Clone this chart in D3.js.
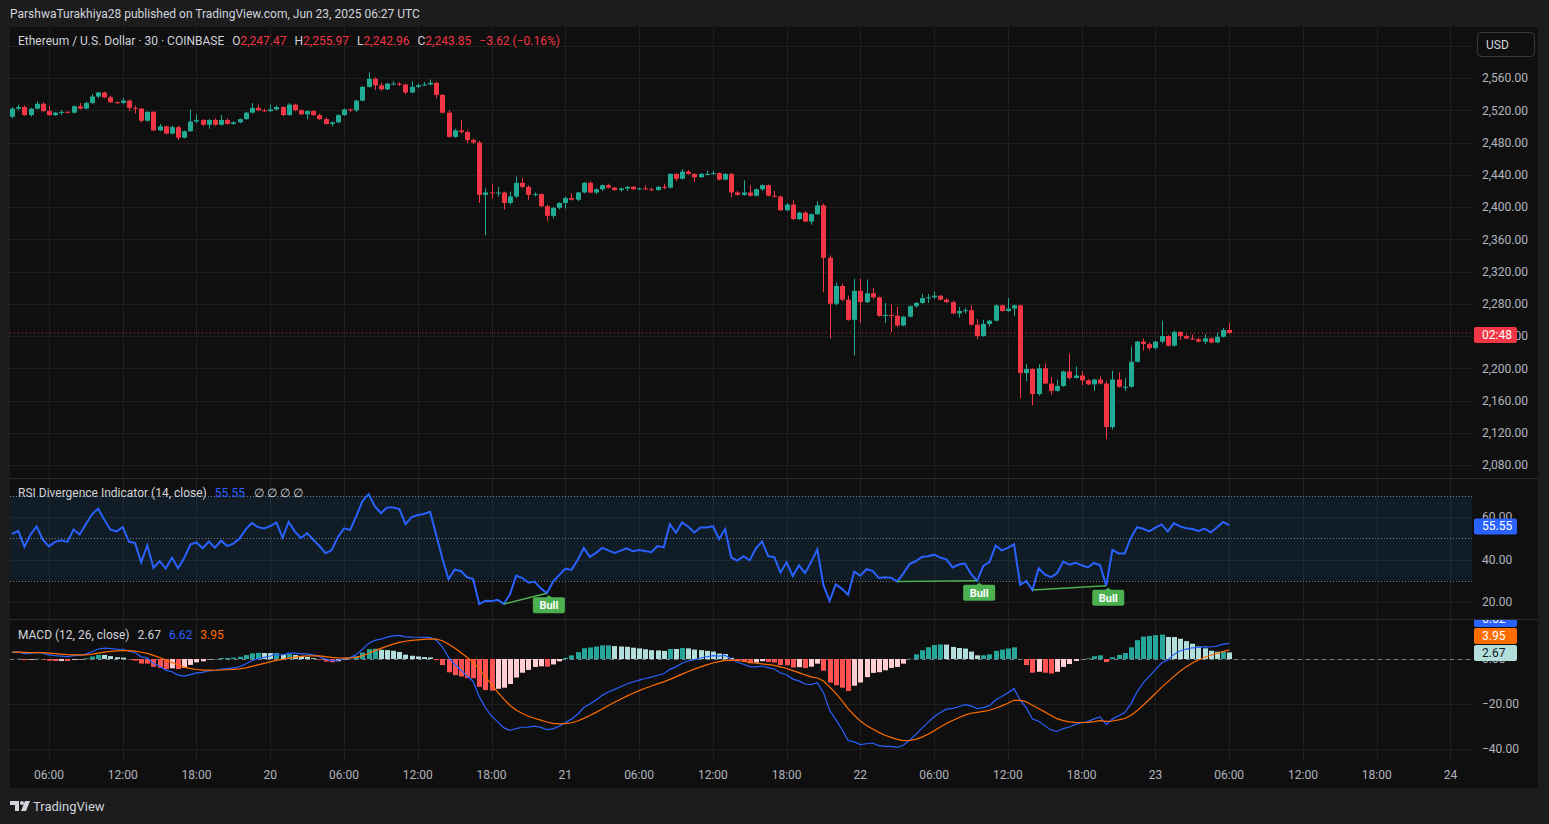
<!DOCTYPE html>
<html>
<head>
<meta charset="utf-8">
<script src="https://cdn.jsdelivr.net/npm/d3@7"></script>
<style>
  html, body { margin: 0; padding: 0; background: #1c1c1c; overflow: hidden; }
  svg { display: block; font-family: Roboto, "Noto Sans", sans-serif; }
</style>
</head>
<body>
<svg id="chart" width="1549" height="824"></svg>
<script>
// ETH/USD 30 min candles, Jun 19 03:00 -> Jun 23 06:00 (UTC)
const open = [2512,2522,2524,2514,2522,2528,2519,2514,2517,2518,2517,2525,2522,2529,2537,2542,2536,2530,2529,2532,
  2523,2522,2507,2518,2495,2500,2491,2499,2486,2494,2506,2508,2502,2508,2502,2508,2503,2505,2509,2517,
  2523,2520,2519,2521,2524,2514,2527,2520,2515,2519,2514,2509,2503,2505,2514,2521,2520,2532,2549,2559,
  2551,2546,2553,2553,2552,2542,2549,2551,2552,2554,2539,2517,2487,2495,2493,2483,2480,2415,2418,2417,
  2418,2405,2413,2430,2425,2415,2416,2401,2389,2399,2405,2411,2409,2418,2430,2418,2422,2427,2424,2421,
  2423,2425,2422,2423,2422,2421,2425,2424,2441,2435,2444,2441,2437,2441,2441,2442,2434,2441,2418,2415,
  2418,2414,2422,2427,2414,2413,2396,2403,2385,2393,2382,2391,2402,2337,2280,2302,2285,2260,2296,2282,
  2293,2288,2265,2266,2265,2253,2264,2277,2281,2287,2288,2290,2285,2282,2268,2271,2272,2254,2240,2255,
  2259,2278,2271,2274,2278,2194,2199,2168,2200,2181,2172,2178,2196,2188,2191,2185,2180,2186,2181,2127,
  2186,2177,2177,2208,2233,2230,2225,2233,2240,2228,2245,2240,2237,2236,2233,2237,2232,2239,2247.47];
const high = [2524,2527,2526,2523,2531,2530,2525,2518,2520,2519,2526,2529,2531,2540,2543,2543,2538,2531,2535,2533,
  2526,2523,2519,2519,2503,2501,2501,2501,2495,2521,2515,2509,2509,2510,2514,2510,2506,2510,2518,2529,
  2527,2522,2527,2526,2525,2529,2528,2521,2520,2520,2516,2511,2506,2515,2522,2522,2533,2550,2567,2561,
  2554,2554,2556,2555,2553,2556,2553,2555,2558,2555,2540,2520,2497,2508,2495,2485,2482,2423,2428,2425,
  2419,2419,2438,2436,2427,2418,2417,2403,2400,2406,2413,2417,2419,2431,2432,2423,2428,2429,2425,2424,
  2426,2426,2424,2427,2424,2426,2429,2442,2442,2447,2446,2442,2442,2445,2445,2443,2442,2442,2420,2433,
  2427,2423,2428,2428,2420,2414,2405,2408,2394,2395,2392,2407,2404,2340,2306,2305,2290,2311,2311,2310,
  2300,2289,2281,2279,2276,2265,2278,2282,2292,2292,2295,2291,2287,2284,2276,2275,2278,2261,2260,2260,
  2279,2279,2287,2279,2279,2205,2200,2205,2206,2189,2186,2197,2218,2202,2196,2187,2187,2190,2184,2197,
  2195,2188,2227,2234,2237,2232,2234,2259,2241,2247,2246,2242,2242,2238,2242,2238,2244,2250,2255.97];
const low = [2510,2520,2513,2512,2521,2518,2513,2513,2514,2516,2516,2521,2521,2528,2535,2535,2529,2528,2528,2519,
  2516,2505,2506,2494,2494,2490,2490,2483,2485,2493,2504,2500,2497,2501,2501,2502,2502,2504,2508,2516,
  2519,2518,2518,2520,2513,2513,2519,2514,2509,2513,2508,2502,2500,2504,2513,2518,2518,2531,2548,2545,
  2544,2545,2551,2550,2540,2541,2547,2550,2551,2535,2516,2486,2486,2491,2479,2478,2405,2365,2410,2413,
  2397,2403,2411,2423,2409,2413,2400,2383,2386,2397,2398,2408,2407,2417,2417,2416,2420,2423,2420,2419,
  2420,2421,2421,2421,2420,2420,2422,2423,2432,2434,2440,2431,2436,2440,2440,2433,2433,2412,2414,2414,
  2413,2413,2420,2413,2412,2395,2395,2384,2384,2381,2378,2390,2294,2237,2278,2283,2259,2216,2256,2281,
  2286,2264,2256,2245,2251,2252,2263,2275,2280,2281,2286,2284,2281,2267,2263,2268,2253,2236,2239,2252,
  2258,2270,2270,2265,2163,2184,2154,2166,2180,2167,2171,2177,2186,2187,2179,2179,2172,2180,2112,2124,
  2176,2172,2176,2207,2222,2222,2223,2231,2227,2227,2235,2236,2235,2232,2230,2231,2231,2238,2242.96];
const close = [2522,2524,2514,2522,2528,2519,2514,2517,2518,2517,2525,2522,2529,2537,2542,2536,2530,2529,2532,2523,
  2522,2507,2518,2495,2500,2491,2499,2486,2494,2506,2508,2502,2508,2502,2508,2503,2505,2509,2517,2523,
  2520,2519,2521,2524,2514,2527,2520,2515,2519,2514,2509,2503,2505,2514,2521,2520,2532,2549,2559,2551,
  2546,2553,2553,2552,2542,2549,2551,2552,2554,2539,2517,2487,2495,2493,2483,2480,2415,2418,2417,2418,
  2405,2413,2430,2425,2415,2416,2401,2389,2399,2405,2411,2409,2418,2430,2418,2422,2427,2424,2421,2423,
  2425,2422,2423,2422,2421,2425,2424,2441,2435,2444,2441,2437,2441,2441,2442,2434,2441,2418,2415,2418,
  2414,2422,2427,2414,2413,2396,2403,2385,2393,2382,2391,2402,2337,2280,2302,2285,2260,2296,2282,2293,
  2288,2265,2266,2265,2253,2264,2277,2281,2287,2288,2290,2285,2282,2268,2271,2272,2254,2240,2255,2259,
  2278,2271,2274,2278,2194,2199,2168,2200,2181,2172,2178,2196,2188,2191,2185,2180,2186,2181,2127,2186,
  2177,2177,2208,2233,2230,2225,2233,2240,2228,2245,2240,2237,2236,2233,2237,2232,2239,2247.47,2243.85];

const timeTickBars = [6, 18, 30, 42, 54, 66, 78, 90, 102, 114, 126, 138, 150, 162, 174, 186, 198, 210, 222, 234];
const timeTickLabels = ['06:00', '12:00', '18:00', '20', '06:00', '12:00', '18:00', '21', '06:00', '12:00',
  '18:00', '22', '06:00', '12:00', '18:00', '23', '06:00', '12:00', '18:00', '24'];
const priceGrid = [2080, 2120, 2160, 2200, 2240, 2280, 2320, 2360, 2400, 2440, 2480, 2520, 2560, 2600];
const priceTicks = [2080, 2120, 2160, 2200, 2240, 2280, 2320, 2360, 2400, 2440, 2480, 2520, 2560];
const rsiTicks = [20, 40, 60];
const rsiLevels = [70, 50, 30];
const macdTicks = [-40, -20, 0];
// bullish divergence pivots [first low bar, second low bar]
const divergences = [[80, 87], [144, 157], [166, 178]];
// legend / last values as shown
const rsiLast = 55.55;
const macdLast = { hist: 2.67, macd: 6.62, signal: 3.95 };
const countdown = '02:48';

// --- indicators from closes ---
function calcRSI(values, n) {
  const out = [];
  let ag = 2.6, al = 2.4;
  out[0] = 100 - 100 / (1 + ag / al);
  for (let i = 1; i < values.length; i++) {
    const d = values[i] - values[i - 1];
    ag = (ag * (n - 1) + Math.max(d, 0)) / n;
    al = (al * (n - 1) + Math.max(-d, 0)) / n;
    out[i] = al === 0 ? 100 : 100 - 100 / (1 + ag / al);
  }
  return out;
}
function ema(values, n, seed) {
  const k = 2 / (n + 1);
  const out = [];
  let prev = seed;
  values.forEach((v, i) => { prev = v * k + prev * (1 - k); out[i] = prev; });
  return out;
}
const rsi = calcRSI(close, 14);
const ema12 = ema(close, 12, 2519);
const ema26 = ema(close, 26, 2516);
const macd = ema12.map((v, i) => v - ema26[i]);
const signal = ema(macd, 9, 3);
const hist = macd.map((v, i) => v - signal[i]);

// --- layout ---
const W = 1549, H = 824;
const plotL = 10, plotR = 1472, axisR = 1538;
const pane = {
  price: [27, 478],
  rsi: [478, 619],
  macd: [619, 762]
};
const bars = d3.range(close.length);

const x = d3.scaleLinear().domain([-0.34, 237.5]).range([plotL, plotR]);
const yP = d3.scaleLinear().domain([2080, 2560]).range([465, 78]);
const yR = d3.scaleLinear().domain([20, 60]).range([602, 517]);
const yM = d3.scaleLinear().domain([-40, 0]).range([749, 659]);

const UP = '#22ab94', DOWN = '#f23645';
const GRID = '#1f1f1f', TEXT = '#d1d4dc', AXIS_TEXT = '#b2b5be';

const svg = d3.select('#chart');
svg.append('rect').attr('width', W).attr('height', H).attr('fill', '#1c1c1c');
svg.append('rect').attr('x', plotL).attr('y', 27).attr('width', axisR - plotL).attr('height', 788 - 27).attr('fill', '#0f0f0f');

// header
svg.append('text').attr('x', 10).attr('y', 18).attr('fill', TEXT).style('font-size', '12px')
  .text('ParshwaTurakhiya28 published on TradingView.com, Jun 23, 2025 06:27 UTC');

// clip paths
const defs = svg.append('defs');
Object.entries(pane).forEach(([k, [t, b]]) => {
  defs.append('clipPath').attr('id', 'clip-' + k).append('rect')
    .attr('x', plotL).attr('y', t).attr('width', plotR - plotL).attr('height', b - t);
  defs.append('clipPath').attr('id', 'aclip-' + k).append('rect')
    .attr('x', plotR).attr('y', t + 1).attr('width', axisR - plotR).attr('height', b - t - 1);
});

// vertical grid
svg.append('g').selectAll('line').data(timeTickBars).join('line')
  .attr('x1', d => Math.round(x(d)) + 0.5).attr('x2', d => Math.round(x(d)) + 0.5)
  .attr('y1', 27).attr('y2', 762).attr('stroke', GRID);

// horizontal grids
function hGrid(ticks, y) {
  svg.append('g').selectAll('line').data(ticks).join('line')
    .attr('x1', plotL).attr('x2', plotR)
    .attr('y1', d => Math.round(y(d)) + 0.5).attr('y2', d => Math.round(y(d)) + 0.5)
    .attr('stroke', GRID);
}
hGrid(priceGrid, yP);
hGrid(rsiTicks, yR);
hGrid(macdTicks, yM);

// pane separators
[478, 619].forEach(yy => {
  svg.append('line').attr('x1', plotL).attr('x2', axisR).attr('y1', yy + 0.5).attr('y2', yy + 0.5)
    .attr('stroke', '#2e2e2e');
});

// ---- price pane ----
const gP = svg.append('g').attr('clip-path', 'url(#clip-price)');
gP.append('line').attr('x1', plotL).attr('x2', plotR)
  .attr('y1', yP(close[close.length - 1])).attr('y2', yP(close[close.length - 1]))
  .attr('stroke', DOWN).attr('stroke-dasharray', '1,3');
const cx = i => Math.round(x(i));
gP.selectAll('line.wick').data(bars).join('line').attr('class', 'wick')
  .attr('x1', i => cx(i) + 0.5).attr('x2', i => cx(i) + 0.5)
  .attr('y1', i => yP(high[i])).attr('y2', i => yP(low[i]))
  .attr('stroke', i => close[i] >= open[i] ? UP : DOWN);
gP.selectAll('rect.body').data(bars).join('rect').attr('class', 'body')
  .attr('x', i => cx(i) - 2).attr('width', 5)
  .attr('y', i => yP(Math.max(open[i], close[i])))
  .attr('height', i => Math.max(1, Math.abs(yP(open[i]) - yP(close[i]))))
  .attr('fill', i => close[i] >= open[i] ? UP : DOWN);

// ---- RSI pane ----
const gR = svg.append('g').attr('clip-path', 'url(#clip-rsi)');
gR.append('rect').attr('x', plotL).attr('width', plotR - plotL)
  .attr('y', yR(70)).attr('height', yR(30) - yR(70)).attr('fill', 'rgba(33,150,243,0.1)');
gR.selectAll('line.lvl').data(rsiLevels).join('line').attr('class', 'lvl')
  .attr('x1', plotL).attr('x2', plotR)
  .attr('y1', d => Math.round(yR(d)) + 0.5).attr('y2', d => Math.round(yR(d)) + 0.5)
  .attr('stroke', '#787b86').attr('stroke-dasharray', '1,2');
gR.append('path').datum(bars)
  .attr('d', d3.line().x(i => x(i)).y(i => yR(rsi[i])))
  .attr('fill', 'none').attr('stroke', '#2962ff').attr('stroke-width', 2);
gR.selectAll('line.div').data(divergences).join('line').attr('class', 'div')
  .attr('x1', d => x(d[0])).attr('y1', d => yR(rsi[d[0]]))
  .attr('x2', d => x(d[1])).attr('y2', d => yR(rsi[d[1]]))
  .attr('stroke', '#4caf50').attr('stroke-width', 1.5);
const bull = gR.selectAll('g.bull').data(divergences).join('g').attr('class', 'bull')
  .attr('transform', d => `translate(${x(d[1]) + 2},${yR(rsi[d[1]]) + 2})`);
bull.append('path').attr('d', 'M-4,3 L0,0 L4,3 Z').attr('fill', '#4caf50');
bull.append('rect').attr('x', -16).attr('y', 2).attr('width', 32).attr('height', 16).attr('rx', 2).attr('fill', '#4caf50');
bull.append('text').attr('y', 14).attr('text-anchor', 'middle').attr('fill', '#fff')
  .style('font-size', '11px').style('font-weight', 'bold').text('Bull');

// ---- MACD pane ----
const gM = svg.append('g').attr('clip-path', 'url(#clip-macd)');
gM.append('line').attr('x1', plotL).attr('x2', plotR).attr('y1', yM(0) + 0.5).attr('y2', yM(0) + 0.5)
  .attr('stroke', '#787b86').attr('stroke-dasharray', '4,4');
gM.selectAll('rect.h').data(bars).join('rect').attr('class', 'h')
  .attr('x', i => cx(i) - 2).attr('width', 5)
  .attr('y', i => Math.min(yM(0), yM(hist[i])))
  .attr('height', i => Math.abs(yM(hist[i]) - yM(0)))
  .attr('fill', i => {
    const prev = i > 0 ? hist[i - 1] : hist[i];
    if (hist[i] >= 0) return hist[i] > prev ? '#26a69a' : '#b2dfdb';
    return hist[i] < prev ? '#ff5252' : '#ffcdd2';
  });
gM.append('path').datum(bars).attr('d', d3.line().x(i => x(i)).y(i => yM(macd[i])))
  .attr('fill', 'none').attr('stroke', '#2962ff').attr('stroke-width', 1.2);
gM.append('path').datum(bars).attr('d', d3.line().x(i => x(i)).y(i => yM(signal[i])))
  .attr('fill', 'none').attr('stroke', '#ff6d00').attr('stroke-width', 1.2);

// ---- right axes ----
function rightAxis(y, ticks, clip) {
  const g = svg.append('g').attr('clip-path', `url(#aclip-${clip})`)
    .append('g').attr('transform', `translate(${plotR},0)`)
    .call(d3.axisRight(y).tickValues(ticks).tickSize(0).tickPadding(10).tickFormat(d3.format(',.2f')));
  g.select('.domain').remove();
  g.selectAll('text').attr('fill', AXIS_TEXT).style('font-size', '12px')
    .style('font-family', 'Roboto, "Noto Sans", sans-serif');
  return g;
}
rightAxis(yP, priceTicks, 'price');
rightAxis(yR, rsiTicks, 'rsi');
rightAxis(yM, macdTicks, 'macd');

function valueBox(yc, label, fill, color, clip) {
  const g = svg.append('g').attr('clip-path', `url(#aclip-${clip})`);
  g.append('rect').attr('x', plotR + 2).attr('y', yc - 8).attr('width', 43).attr('height', 16)
    .attr('rx', 2).attr('fill', fill);
  g.append('text').attr('x', plotR + 10).attr('y', yc + 4).attr('fill', color)
    .style('font-size', '12px').text(label);
}
valueBox(yP(close[close.length - 1]) + 2, countdown, DOWN, '#fff', 'price');
valueBox(yR(rsiLast), d3.format('.2f')(rsiLast), '#2962ff', '#fff', 'rsi');
// stack MACD value boxes from the bottom up
const mBoxes = [
  { v: macdLast.hist, fill: '#b2dfdb', color: '#131722' },
  { v: macdLast.signal, fill: '#ff6d00', color: '#fff' },
  { v: macdLast.macd, fill: '#2962ff', color: '#fff' }
];
let lastY = Infinity;
mBoxes.forEach(b => {
  const yy = Math.min(yM(b.v), lastY - 17);
  valueBox(yy, d3.format('.2f')(b.v), b.fill, b.color, 'macd');
  lastY = yy;
});

// USD button
svg.append('rect').attr('x', 1477.5).attr('y', 32.5).attr('width', 57).attr('height', 24).attr('rx', 4)
  .attr('fill', '#0f0f0f').attr('stroke', '#3a3a3a');
svg.append('text').attr('x', 1486).attr('y', 49).attr('fill', TEXT).style('font-size', '12px').text('USD');

// time axis labels
svg.append('g').selectAll('text').data(timeTickBars).join('text')
  .attr('x', d => x(d)).attr('y', 779).attr('text-anchor', 'middle')
  .attr('fill', AXIS_TEXT).style('font-size', '12px')
  .text((d, k) => timeTickLabels[k]);

// ---- legends ----
const fmt = d3.format(',.2f');
const n = close.length - 1;
const chg = close[n] - close[n - 1];
const leg = svg.append('text').attr('x', 18).attr('y', 45).style('font-size', '12px').attr('fill', TEXT);
leg.append('tspan').text('Ethereum / U.S. Dollar · 30 · COINBASE');
[['O', open[n]], ['H', high[n]], ['L', low[n]], ['C', close[n]]].forEach(([k, v], j) => {
  leg.append('tspan').attr('dx', j === 0 ? 8 : 8).attr('fill', TEXT).text(k);
  leg.append('tspan').attr('fill', DOWN).text(fmt(v));
});
leg.append('tspan').attr('dx', 8).attr('fill', DOWN)
  .text(`${d3.format('+.2f')(chg)} (${d3.format('+.2%')(chg / close[n - 1])})`);

const rl = svg.append('text').attr('x', 18).attr('y', 497).style('font-size', '12px').attr('fill', TEXT);
rl.append('tspan').text('RSI Divergence Indicator (14, close)');
rl.append('tspan').attr('dx', 8).attr('fill', '#2962ff').text(d3.format('.2f')(rsiLast));
rl.append('tspan').attr('dx', 9).attr('fill', TEXT).text('∅  ∅  ∅  ∅');

const ml = svg.append('text').attr('x', 18).attr('y', 639).style('font-size', '12px').attr('fill', TEXT);
ml.append('tspan').text('MACD (12, 26, close)');
ml.append('tspan').attr('dx', 8).attr('fill', TEXT).text(d3.format('.2f')(macdLast.hist));
ml.append('tspan').attr('dx', 8).attr('fill', '#2962ff').text(d3.format('.2f')(macdLast.macd));
ml.append('tspan').attr('dx', 8).attr('fill', '#ff6d00').text(d3.format('.2f')(macdLast.signal));

// TradingView footer logo
const logo = svg.append('g').attr('fill', TEXT);
logo.append('path').attr('d', 'M10,801 h9 v10 h-4 v-6 h-5 z');
logo.append('circle').attr('cx', 22).attr('cy', 803).attr('r', 2);
logo.append('path').attr('d', 'M25,801 h5 l-4,10 h-5 z');
svg.append('text').attr('x', 33).attr('y', 811).attr('fill', TEXT).style('font-size', '13px').text('TradingView');
</script>
</body>
</html>
